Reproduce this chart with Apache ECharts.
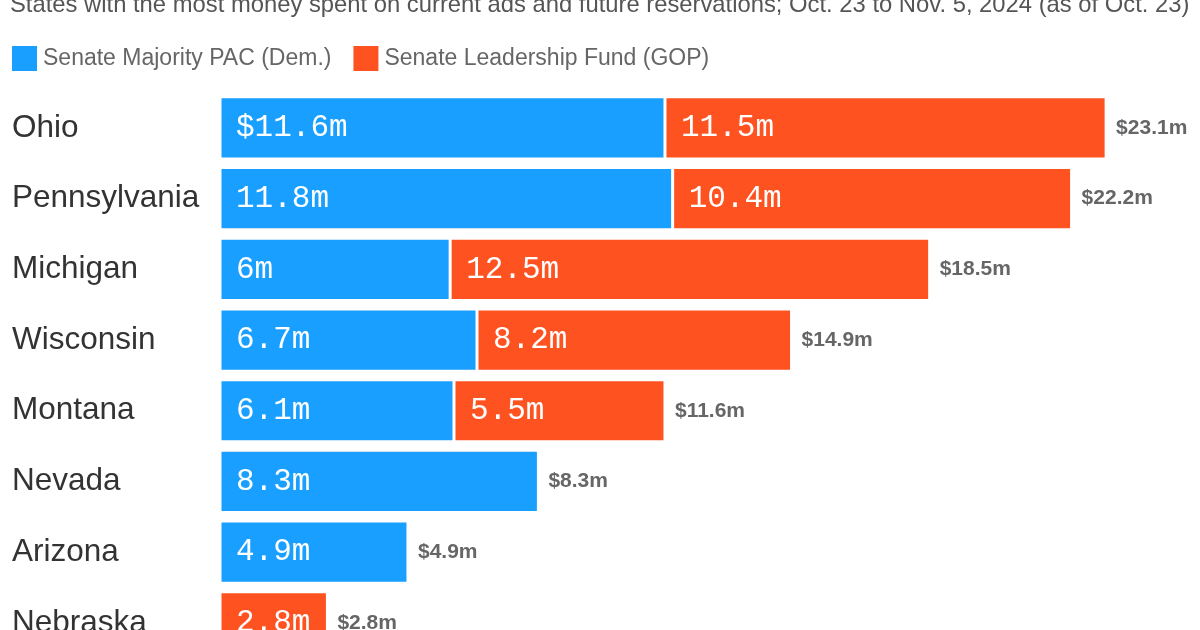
<!DOCTYPE html>
<html>
<head>
<meta charset="utf-8">
<script src="https://cdn.jsdelivr.net/npm/echarts@6/dist/echarts.min.js"></script>
<style>
  html, body { margin: 0; padding: 0; background: #fff; }
  #chart { width: 1200px; height: 630px; }
</style>
</head>
<body>
<div id="chart"></div>
<script>
// data, $ millions
const states = ['Ohio', 'Pennsylvania', 'Michigan', 'Wisconsin', 'Montana', 'Nevada', 'Arizona', 'Nebraska']
const demValues = [11.6, 11.8, 6, 6.7, 6.1, 8.3, 4.9, 0]
const gopValues = [11.5, 10.4, 12.5, 8.2, 5.5, 0, 0, 2.8]
const totals = [23.1, 22.2, 18.5, 14.9, 11.6, 8.3, 4.9, 2.8]

const BLUE = '#189FFF'
const ORANGE = '#FF5221'

const chart = echarts.init(document.getElementById('chart'))

// label inside a segment, only the very first one gets the $
const insideLabel = (p) => {
  if (!p.value) return ''
  const dollar = (p.seriesIndex === 0 && p.dataIndex === 0) ? '$' : ''
  return dollar + p.value + 'm'
}

const insideStyle = {
  show: true,
  position: 'insideLeft',
  distance: 16,
  color: '#fff',
  fontFamily: 'Liberation Mono',
  fontSize: 31,
  formatter: insideLabel
}

const option = {
  animation: false,
  textStyle: { fontFamily: 'Liberation Sans' },
  graphic: [{
    type: 'text',
    left: 10,
    top: -7,
    style: {
      text: 'States with the most money spent on current ads and future reservations; Oct. 23 to Nov. 5, 2024 (as of Oct. 23)',
      fontSize: 23.8,
      fontFamily: 'Liberation Sans',
      fill: '#555'
    }
  }],
  legend: {
    data: ['Senate Majority PAC (Dem.)', 'Senate Leadership Fund (GOP)'],
    left: 10,
    top: 44,
    padding: 0,
    icon: 'rect',
    itemWidth: 27,
    itemHeight: 27,
    itemGap: 20,
    textStyle: { fontSize: 23, color: '#666', padding: [0, 0, 0, 0] },
    selectedMode: false
  },
  grid: {
    left: 220,
    width: 959,
    top: 92.6,
    height: 565.6,
    outerBoundsMode: 'none'
  },
  xAxis: {
    type: 'value',
    min: 0,
    max: 25,
    show: false,
    splitLine: { show: false }
  },
  yAxis: {
    type: 'category',
    data: states,
    inverse: true,
    axisLine: { show: false },
    axisTick: { show: false },
    axisLabel: {
      align: 'left',
      margin: 208,
      fontSize: 31.5,
      color: '#333',
      fontFamily: 'Liberation Sans'
    }
  },
  series: [
    {
      name: 'Senate Majority PAC (Dem.)',
      type: 'bar',
      stack: 'spend',
      data: demValues,
      barCategoryGap: '12%',
      barGap: '-100%',
      itemStyle: { color: BLUE, borderColor: '#fff', borderWidth: 1.5 },
      label: insideStyle
    },
    {
      name: 'Senate Leadership Fund (GOP)',
      type: 'bar',
      stack: 'spend',
      data: gopValues,
      barCategoryGap: '12%',
      barGap: '-100%',
      itemStyle: { color: ORANGE, borderColor: '#fff', borderWidth: 1.5 },
      label: insideStyle
    },
    {
      // invisible bar the full length, just to carry the total label
      name: 'total',
      type: 'bar',
      data: totals,
      barCategoryGap: '12%',
      barGap: '-100%',
      silent: true,
      z: 1,
      itemStyle: { color: 'rgba(0,0,0,0)' },
      label: {
        show: true,
        position: 'right',
        distance: 10,
        color: '#666',
        fontWeight: 'bold',
        fontSize: 21,
        fontFamily: 'Liberation Sans',
        formatter: (p) => '$' + p.value + 'm'
      }
    }
  ]
}

chart.setOption(option)
</script>
</body>
</html>
